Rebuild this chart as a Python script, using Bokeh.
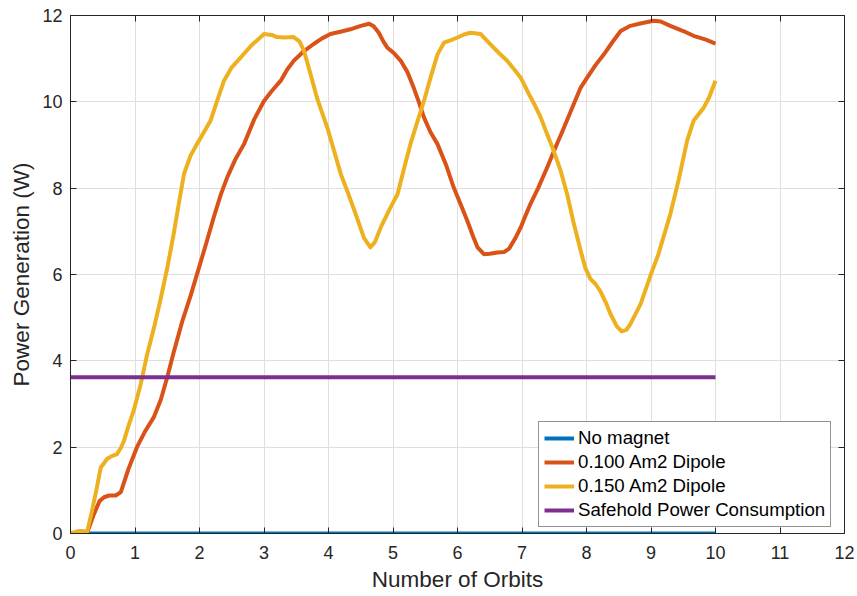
from bokeh.plotting import figure
from bokeh.models import LinearAxis, Range1d, FixedTicker, Legend, LegendItem, CustomJSTickFormatter
from bokeh.embed import file_html
from bokeh.resources import INLINE

# ---- data ----
blue_x = [0, 10]
blue_y = [0, 0]

safe_x = [0, 10]
safe_y = [3.62, 3.62]

red_x = [0, 0.15, 0.26, 0.35, 0.45, 0.52, 0.6, 0.7, 0.78, 0.9, 1.03, 1.15, 1.29, 1.4, 1.5,
         1.6, 1.73, 1.86, 2.0, 2.1, 2.22, 2.33, 2.43, 2.55, 2.69, 2.85, 3.0, 3.12, 3.26,
         3.36, 3.46, 3.6, 3.77, 3.9, 4.03, 4.2, 4.34, 4.5, 4.63, 4.7, 4.78, 4.85, 4.91, 5.02,
         5.12, 5.22, 5.32, 5.4, 5.48, 5.58, 5.69, 5.82, 5.94, 6.05, 6.15, 6.25, 6.31,
         6.41, 6.5, 6.62, 6.72, 6.8, 6.9, 6.98, 7.05, 7.13, 7.25, 7.39, 7.52, 7.65, 7.78,
         7.91, 8.01, 8.14, 8.27, 8.4, 8.53, 8.68, 8.85, 9.04, 9.15, 9.3, 9.5, 9.66, 9.85,
         10.0]
red_y = [0, 0.0, 0.02, 0.4, 0.75, 0.84, 0.88, 0.88, 0.96, 1.5, 2.0, 2.35, 2.69, 3.1, 3.62,
         4.2, 4.9, 5.5, 6.2, 6.7, 7.32, 7.85, 8.25, 8.65, 9.02, 9.6, 10.02, 10.25, 10.49,
         10.75, 10.95, 11.15, 11.34, 11.47, 11.57, 11.63, 11.68, 11.76, 11.81, 11.75, 11.6,
         11.4, 11.26, 11.12, 10.95, 10.7, 10.33, 10.0, 9.64, 9.3, 9.02, 8.55, 8.02, 7.62, 7.25,
         6.85, 6.63, 6.47, 6.48, 6.51, 6.52, 6.6, 6.85, 7.09, 7.35, 7.63, 8.0, 8.48, 8.95,
         9.40, 9.87, 10.33, 10.56, 10.85, 11.1, 11.38, 11.64, 11.76, 11.82, 11.88, 11.86,
         11.76, 11.64, 11.53, 11.44, 11.35]

yel_x = [0, 0.08, 0.15, 0.22, 0.26, 0.33, 0.4, 0.47, 0.57, 0.65, 0.72, 0.78, 0.83, 0.9,
         0.98, 1.09, 1.19, 1.3, 1.4, 1.5, 1.6, 1.68, 1.76, 1.86, 1.96, 2.07, 2.17, 2.28,
         2.38, 2.5, 2.64, 2.8, 3.0, 3.12, 3.2, 3.31, 3.46, 3.55, 3.62, 3.72, 3.82, 3.9,
         3.98, 4.08, 4.19, 4.3, 4.44, 4.55, 4.65, 4.72, 4.81, 4.96, 5.07, 5.17, 5.27, 5.38,
         5.48, 5.58, 5.69, 5.79, 5.9, 6.0, 6.1, 6.2, 6.36, 6.5, 6.65, 6.77, 6.88, 6.98,
         7.1, 7.2, 7.29, 7.39, 7.49, 7.6, 7.7, 7.8, 7.91, 7.98, 8.06, 8.14, 8.22, 8.3,
         8.37, 8.47, 8.55, 8.62, 8.68, 8.84, 9.0, 9.11, 9.22, 9.3, 9.43, 9.56, 9.66, 9.82,
         9.9, 10.0]
yel_y = [0, 0.04, 0.06, 0.05, 0.05, 0.5, 1.0, 1.53, 1.73, 1.8, 1.84, 1.98, 2.15, 2.5,
         2.85, 3.47, 4.16, 4.8, 5.45, 6.15, 6.94, 7.65, 8.33, 8.75, 9.02, 9.3, 9.56, 10.05,
         10.49, 10.8, 11.03, 11.3, 11.57, 11.55, 11.5, 11.49, 11.5, 11.4, 11.18, 10.65,
         10.1, 9.75, 9.41, 8.9, 8.33, 7.9, 7.32, 6.85, 6.63, 6.75, 7.09, 7.55, 7.86, 8.45,
         9.02, 9.55, 10.02, 10.55, 11.1, 11.37, 11.43, 11.49, 11.56, 11.6, 11.57, 11.35,
         11.12, 10.95, 10.75, 10.56, 10.2, 9.92, 9.64, 9.25, 8.87, 8.4, 7.86, 7.2, 6.55,
         6.16, 5.9, 5.78, 5.6, 5.35, 5.09, 4.8, 4.68, 4.72, 4.85, 5.32, 6.01, 6.45, 7.0,
         7.4, 8.2, 9.1, 9.56, 9.87, 10.1, 10.49]

x_ticks = list(range(0, 13))
y_ticks = [0, 2, 4, 6, 8, 10, 12]

labels = ["No magnet", "0.100 Am2 Dipole", "0.150 Am2 Dipole", "Safehold Power Consumption"]
colors = ["#0072BD", "#D95319", "#EDB120", "#7E2F8E"]

FONT = "Liberation Sans"
DARK = "#262626"

p = figure(frame_width=774, frame_height=518, output_backend="svg", toolbar_location=None,
           x_range=Range1d(0, 12), y_range=Range1d(0, 12),
           min_border_left=70, min_border_right=13, min_border_top=15, min_border_bottom=63,
           background_fill_color="white", border_fill_color="white")
p.outline_line_color = DARK
p.outline_line_width = 1

for ax in [p.xaxis[0], p.yaxis[0]]:
    ax.major_label_text_font = FONT
    ax.major_label_text_font_size = "18px"
    ax.major_label_text_color = DARK
    ax.axis_label_text_font = FONT
    ax.axis_label_text_font_size = "22.5px"
    ax.axis_label_text_font_style = "normal"
    ax.axis_label_text_color = DARK
    ax.axis_line_color = DARK
    ax.major_tick_line_color = DARK
    ax.major_tick_in = 6
    ax.major_tick_out = 0
    ax.minor_tick_line_color = None
    ax.axis_label_standoff = 5
p.xaxis.ticker = FixedTicker(ticks=x_ticks)
p.yaxis.ticker = FixedTicker(ticks=y_ticks)
p.xaxis.axis_label = "Number of Orbits"
p.yaxis.axis_label = "Power Generation (W)"
p.xaxis.major_label_standoff = 12
p.yaxis.major_label_standoff = 8

for loc, tick in [("above", x_ticks), ("right", y_ticks)]:
    a = LinearAxis(ticker=FixedTicker(ticks=tick),
                   formatter=CustomJSTickFormatter(code="return ''"),
                   major_label_text_font_size="1px",
                   axis_line_color=DARK, major_tick_line_color=DARK, major_tick_in=6,
                   major_tick_out=0, minor_tick_line_color=None, major_label_standoff=0)
    p.add_layout(a, loc)

p.xgrid.ticker = FixedTicker(ticks=x_ticks)
p.ygrid.ticker = FixedTicker(ticks=y_ticks)
p.grid.grid_line_color = "#dfdfdf"
p.grid.grid_line_width = 1

lw = 4
r0 = p.line(blue_x, blue_y, line_color=colors[0], line_width=lw)
r1 = p.line(red_x, red_y, line_color=colors[1], line_width=lw, line_join="round")
r2 = p.line(yel_x, yel_y, line_color=colors[2], line_width=lw, line_join="round")
r3 = p.line(safe_x, safe_y, line_color=colors[3], line_width=lw)

legend = Legend(items=[LegendItem(label=labels[i], renderers=[r]) for i, r in enumerate([r0, r1, r2, r3])],
                location=(468, 6), label_text_font=FONT, label_text_font_size="18.7px",
                label_text_color="black", glyph_width=30, glyph_height=20, label_height=20,
                spacing=2, padding=5, margin=0, label_standoff=4,
                border_line_color=DARK, border_line_width=1, background_fill_color="white",
                background_fill_alpha=1)
p.add_layout(legend, "center")

open("out.html", "w").write(file_html(p, INLINE))
